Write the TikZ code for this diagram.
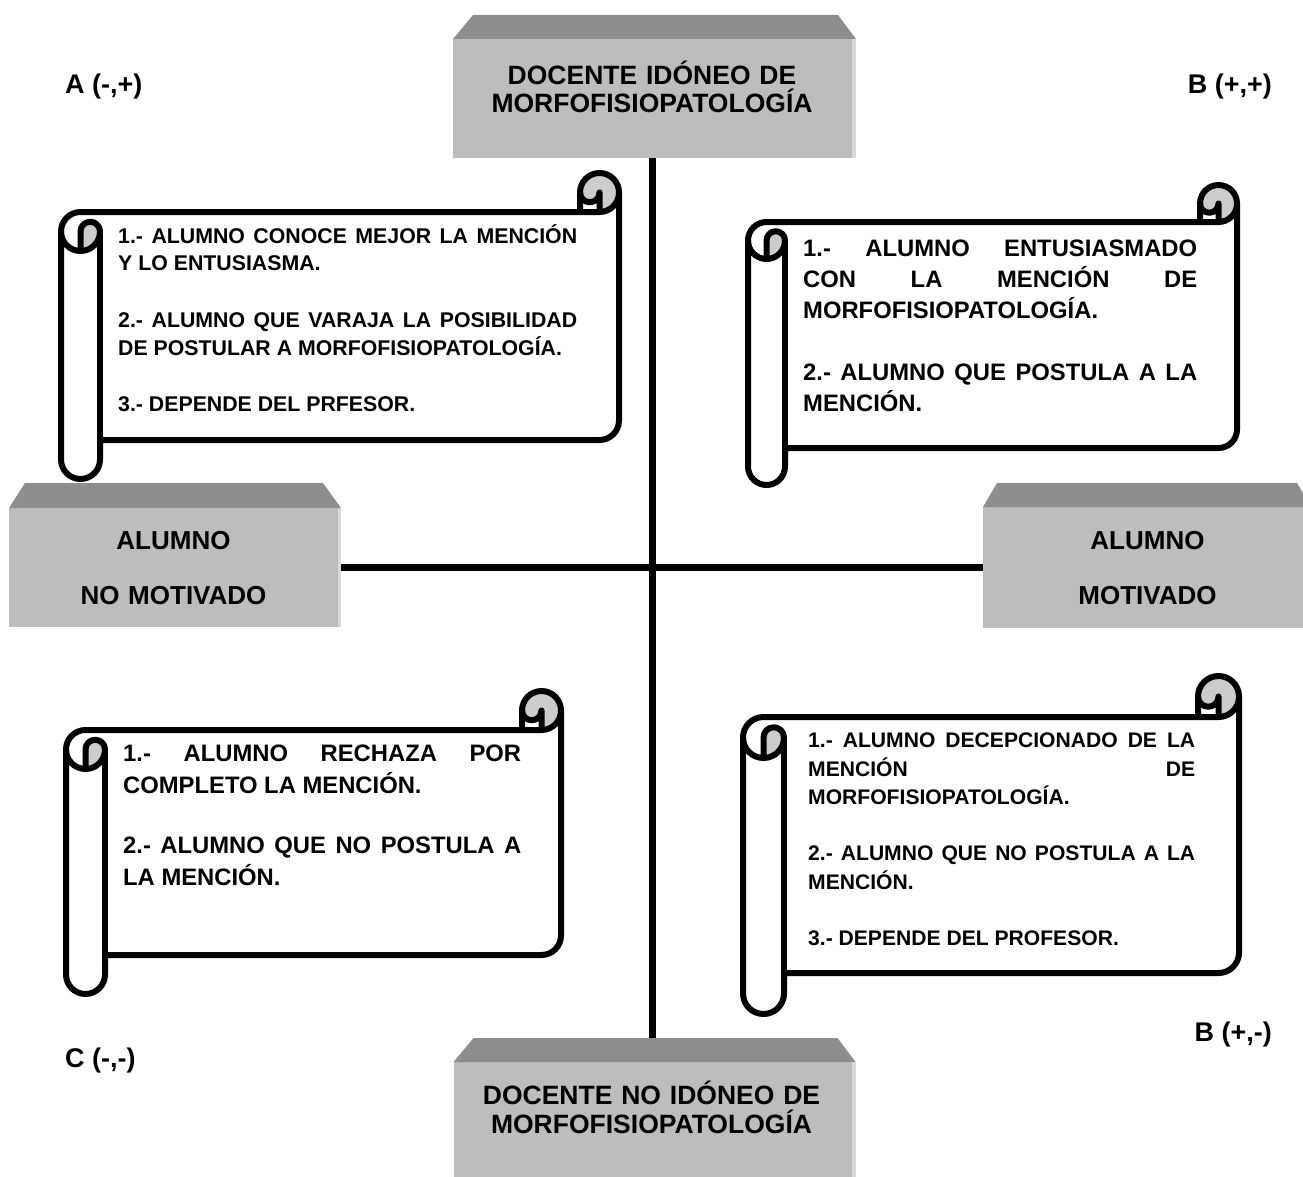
\documentclass[tikz,border=0pt]{standalone}
\usepackage{fontspec}
\setmainfont{Liberation Sans}
\tolerance=10000 \hbadness=10000 \hfuzz=20pt
\hyphenpenalty=10000 \exhyphenpenalty=10000
\frenchspacing
\definecolor{facegray}{RGB}{189,189,189}
\definecolor{topgray}{RGB}{142,142,142}
\definecolor{edgegray}{RGB}{218,218,218}
\definecolor{curlgray}{RGB}{204,204,204}
\tikzset{
  boxface/.style={fill=facegray, draw=none, inner sep=0pt, outer sep=0pt},
  beveltop/.style={fill=topgray},
  bevelside/.style={fill=edgegray},
  axisline/.style={line width=6.5pt, draw=black},
  scrollline/.style={line width=6pt, line join=round, line cap=round, draw=black},
  cornerlbl/.style={font=\bfseries\fontsize{27}{30}\selectfont, inner sep=0pt},
  titletxt/.style={font=\bfseries\fontsize{26.5}{28.5}\selectfont, inner sep=0pt, text width=440pt, align=center, anchor=base},
  sidetxt/.style={font=\bfseries\fontsize{26}{55}\selectfont, inner sep=0pt, text width=320pt, align=center, anchor=base},
  scrolltxt/.style={inner sep=0pt, anchor=base west, align=justify}
}
\newcommand\drawscroll[5]{%
 \pgfmathsetmacro\scL{#1}\pgfmathsetmacro\scT{#2}%
 \pgfmathsetmacro\scR{#3}\pgfmathsetmacro\scB{#4}%
 \pgfmathsetmacro\scH{#5/2}\pgfmathsetmacro\scQ{#5/4}%
 \pgfmathsetmacro\yA{#2+#5}\pgfmathsetmacro\yH{#2+#5/2}%
 \pgfmathsetmacro\yT{#2+1.5*#5}\pgfmathsetmacro\yF{#2+2*#5}%
 \pgfmathsetmacro\ySix{#4-#5}\pgfmathsetmacro\ySev{#4-#5/2}\pgfmathsetmacro\yFv{#4-1.5*#5}%
 \pgfmathsetmacro\xTh{#3-#5}\pgfmathsetmacro\xFo{#3-#5/2}%
 \pgfmathsetmacro\xC{#1+#5}\pgfmathsetmacro\xHf{#1+#5/2}%
 \fill[white] (\scL,\yT) arc[start angle=180,delta angle=90,radius=\scH] -- (\xTh,\yA) -- (\xTh,\yH) arc[start angle=180,delta angle=180,radius=\scH] -- (\scR,\yFv) arc[start angle=0,delta angle=90,radius=\scH] -- (\xC,\ySix) -- (\xC,\ySev) arc[start angle=0,delta angle=180,radius=\scH] -- cycle;
 \fill[curlgray] (\xHf,\yF) arc[start angle=90,delta angle=-90,radius=\scH] arc[start angle=0,delta angle=-180,radius=\scQ] -- cycle;
 \fill[curlgray] (\xFo,\yA) arc[start angle=90,delta angle=-270,radius=\scH] arc[start angle=180,delta angle=-180,radius=\scQ] -- cycle;
 \draw[scrollline] (\scL,\yT) arc[start angle=180,delta angle=90,radius=\scH] -- (\xTh,\yA) -- (\xTh,\yH) arc[start angle=180,delta angle=180,radius=\scH] -- (\scR,\yFv) arc[start angle=0,delta angle=90,radius=\scH] -- (\xC,\ySix) -- (\xC,\ySev) arc[start angle=0,delta angle=180,radius=\scH] -- cycle;
 \draw[scrollline] (\xTh,\yA) -- (\xFo,\yA) arc[start angle=90,delta angle=-90,radius=\scH];
 \draw[scrollline] (\xFo,\yA) -- (\xFo,\yH) arc[start angle=0,delta angle=180,radius=\scQ];
 \draw[scrollline] (\xHf,\yF) -- (\xHf,\yT) arc[start angle=180,delta angle=180,radius=\scQ] arc[start angle=0,delta angle=180,radius=\scH];
 \draw[scrollline] (\xC,\yT) -- (\xC,\ySix);
}
\begin{document}
\begin{tikzpicture}[x=1pt,y=-1pt]
\useasboundingbox (0,0) rectangle (1303,1177);
\clip (0,0) rectangle (1303,1177);
\fill[white] (0,0) rectangle (1303,1177);

% box faces
\node[boxface, minimum width=399pt, minimum height=119pt] (topbox) at (652.5,98.5) {};
\node[boxface, minimum width=398pt, minimum height=140pt] (botbox) at (652.5,1132) {};
\node[boxface, minimum width=329pt, minimum height=119pt] (leftbox) at (173.5,567.5) {};
\node[boxface, minimum width=328pt, minimum height=121pt] (rightbox) at (1147,567.5) {};

% axes
\draw[axisline] (topbox.south) -- (botbox.north);
\draw[axisline] (leftbox.east) -- (rightbox.west);

% bevels
\fill[bevelside] (topbox.north east) rectangle ([xshift=4pt]topbox.south east);
\fill[beveltop] (topbox.north west) -- ++(20,-24) -- ([xshift=-14pt,yshift=24pt]topbox.north east) -- ([xshift=4pt]topbox.north east) -- cycle;
\fill[bevelside] (botbox.north east) rectangle ([xshift=4pt]botbox.south east);
\fill[beveltop] (botbox.north west) -- ++(20,-24) -- ([xshift=-14pt,yshift=24pt]botbox.north east) -- ([xshift=4pt]botbox.north east) -- cycle;
\fill[bevelside] (leftbox.north east) rectangle ([xshift=3pt]leftbox.south east);
\fill[beveltop] (leftbox.north west) -- ++(16,-25) -- ([xshift=-15pt,yshift=25pt]leftbox.north east) -- ([xshift=3pt]leftbox.north east) -- cycle;
\fill[beveltop] (rightbox.north west) -- ++(14,-24) -- ([xshift=-14pt,yshift=24pt]rightbox.north east) -- (rightbox.north east) -- cycle;

% box texts
\node[titletxt] (toptxt) at (652,84.5) {DOCENTE IDÓNEO DE\\MORFOFISIOPATOLOGÍA};
\node[titletxt] (bottxt) at (651.5,1104.5) {DOCENTE NO IDÓNEO DE\\MORFOFISIOPATOLOGÍA};
\node[sidetxt] (lefttxt) at (173.5,549.3) {ALUMNO\\NO MOTIVADO};
\node[sidetxt] (righttxt) at (1147.5,549.3) {ALUMNO\\MOTIVADO};

% corner labels
\node[cornerlbl, anchor=base west] (qa) at (65,94) {A (-,+)};
\node[cornerlbl, anchor=base east] (qb) at (1272,94) {B (+,+)};
\node[cornerlbl, anchor=base west] (qc) at (65,1067) {C (-,-)};
\node[cornerlbl, anchor=base east] (qd) at (1272,1041) {B (+,-)};

% scrolls
\drawscroll{61}{173}{619}{479}{39}
\drawscroll{748}{185}{1237}{485}{37}
\drawscroll{66}{691}{561}{994}{39}
\drawscroll{743}{676}{1239}{1014}{41}

% scroll texts
\node[scrolltxt, text width=459pt, font=\bfseries\fontsize{21.3}{28}\selectfont] (tltxt) at (118,243)
 {\setlength\parskip{28pt}1.- ALUMNO CONOCE MEJOR LA MENCIÓN\linebreak Y LO ENTUSIASMA.\par
  2.- ALUMNO QUE VARAJA LA POSIBILIDAD\linebreak DE POSTULAR A MORFOFISIOPATOLOGÍA.\par
  3.- DEPENDE DEL PRFESOR.};
\node[scrolltxt, text width=394pt, font=\bfseries\fontsize{23.8}{31}\selectfont] (trtxt) at (803,256.5)
 {\setlength\parskip{31pt}1.- ALUMNO ENTUSIASMADO\linebreak CON LA MENCIÓN DE\linebreak MORFOFISIOPATOLOGÍA.\par
  2.- ALUMNO QUE POSTULA A LA\linebreak MENCIÓN.};
\node[scrolltxt, text width=398pt, font=\bfseries\fontsize{23.8}{32}\selectfont] (bltxt) at (123,761.5)
 {\setlength\parskip{28pt}1.- ALUMNO RECHAZA POR\linebreak COMPLETO LA MENCIÓN.\par
  2.- ALUMNO QUE NO POSTULA A\linebreak LA MENCIÓN.};
\node[scrolltxt, text width=387pt, font=\bfseries\fontsize{21.1}{28.5}\selectfont] (brtxt) at (808,747.6)
 {\setlength\parskip{27.5pt}1.- ALUMNO DECEPCIONADO DE LA\linebreak MENCIÓN DE\linebreak MORFOFISIOPATOLOGÍA.\par
  2.- ALUMNO QUE NO POSTULA A LA\linebreak MENCIÓN.\par
  3.- DEPENDE DEL PROFESOR.};
\end{tikzpicture}
\end{document}
